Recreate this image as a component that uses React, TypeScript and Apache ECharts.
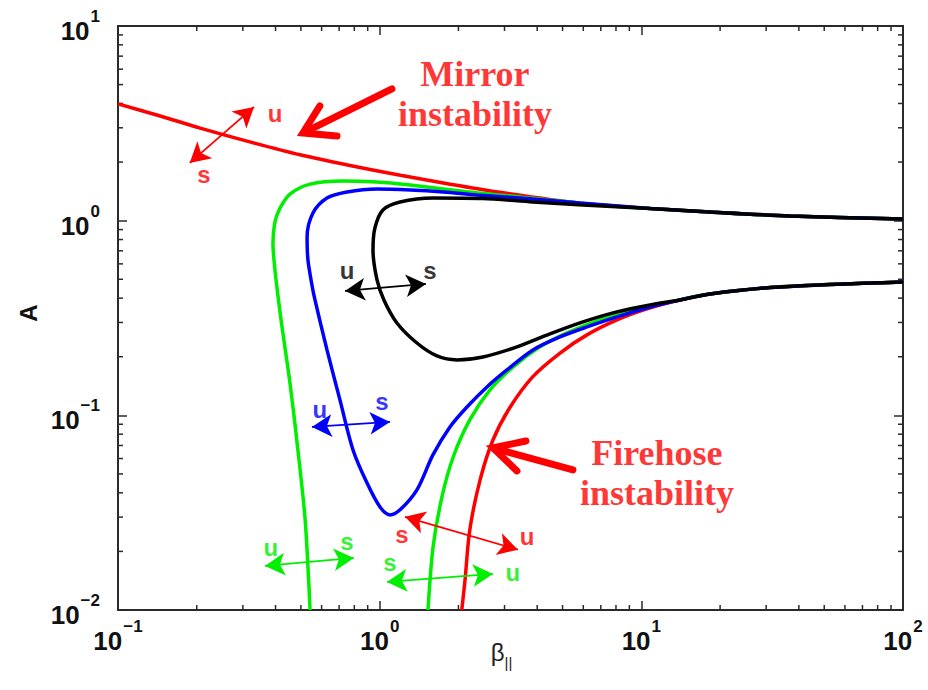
import React, { useEffect, useRef } from "react";
import * as echarts from "echarts";

// Axis ranges (log-log plane)
const BETA_MIN = 0.1;
const BETA_MAX = 100;
const A_MIN = 0.01;
const A_MAX = 10;

const minorBetaTicks = [0.2, 0.3, 0.4, 0.5, 0.6, 0.7, 0.8, 0.9, 2, 3, 4, 5, 6, 7, 8, 9, 20, 30, 40, 50, 60, 70, 80, 90];
const minorATicks = [0.02, 0.03, 0.04, 0.05, 0.06, 0.07, 0.08, 0.09, 0.2, 0.3, 0.4, 0.5, 0.6, 0.7, 0.8, 0.9, 2, 3, 4, 5, 6, 7, 8, 9];

// Mirror threshold (upper red curve)
const mirrorBeta = [0.1, 0.145, 0.206, 0.319, 0.496, 0.77, 1.2, 1.86, 2.88, 5.83, 10.8, 18.3, 37, 100];
const mirrorA = [3.98, 3.45, 2.99, 2.54, 2.18, 1.92, 1.71, 1.54, 1.4, 1.23, 1.155, 1.108, 1.057, 1.02];

// Firehose threshold (lower red curve)
const firehoseBeta = [2.06, 2.12, 2.21, 2.42, 2.71, 3.15, 3.85, 4.89, 6.2, 8.07, 10.5, 14.05, 18.3, 33.9, 100];
const firehoseA = [0.01, 0.0143, 0.0258, 0.0466, 0.0747, 0.11, 0.158, 0.209, 0.259, 0.309, 0.352, 0.392, 0.42, 0.457, 0.484];

// Green contour, left branch rising and bending over into the upper branch
const greenUpperBeta = [0.542, 0.532, 0.518, 0.487, 0.454, 0.42, 0.398, 0.391, 0.398, 0.416, 0.454, 0.542, 0.724, 0.977, 1.31, 1.75, 2.35, 3.44, 5.83, 10.8, 18.3, 37, 100];
const greenUpperA = [0.01, 0.0167, 0.0301, 0.0664, 0.147, 0.309, 0.558, 0.768, 0.985, 1.16, 1.37, 1.54, 1.6, 1.58, 1.525, 1.455, 1.39, 1.323, 1.23, 1.155, 1.108, 1.057, 1.02];

// Green contour, firehose-side branch
const greenLowerBeta = [1.53, 1.6, 1.73, 1.91, 2.21, 2.64, 3.23, 4.1, 5.2, 6.95, 9.29, 14.05, 18.3, 33.9, 100];
const greenLowerA = [0.01, 0.0211, 0.0381, 0.0611, 0.0947, 0.135, 0.177, 0.225, 0.265, 0.309, 0.348, 0.392, 0.42, 0.457, 0.484];

// Blue contour (single curve with a deep minimum)
const blueBeta = [100, 37, 18.3, 10.8, 5.83, 3.44, 2.35, 1.75, 1.31, 0.977, 0.75, 0.629, 0.556, 0.528, 0.532, 0.551, 0.566, 0.629, 0.705, 0.791, 0.894, 1.003, 1.095, 1.196, 1.388, 1.598, 1.856, 2.156, 2.57, 3.064, 3.853, 4.887, 6.197, 8.068, 10.79, 14.05, 18.29, 33.85, 100];
const blueA = [1.02, 1.057, 1.108, 1.155, 1.233, 1.308, 1.355, 1.404, 1.438, 1.455, 1.404, 1.308, 1.095, 0.8245, 0.6285, 0.4675, 0.3915, 0.2168, 0.12, 0.0664, 0.045, 0.0338, 0.0308, 0.0327, 0.0414, 0.0626, 0.0872, 0.1104, 0.1399, 0.1711, 0.2168, 0.2528, 0.2844, 0.3202, 0.3603, 0.3915, 0.4203, 0.4566, 0.4844];

// Black contour (closed-looking loop)
const blackBeta = [100, 37, 18.3, 10.8, 5.98, 3.85, 2.48, 1.6, 1.196, 1.029, 0.959, 0.943, 0.977, 1.038, 1.164, 1.388, 1.656, 1.974, 2.481, 3.347, 4.474, 5.983, 8.068, 10.79, 14.05, 18.29, 33.85, 100];
const blackA = [1.02, 1.057, 1.108, 1.155, 1.204, 1.247, 1.3, 1.308, 1.247, 1.135, 0.917, 0.707, 0.496, 0.3915, 0.2982, 0.2353, 0.2019, 0.1926, 0.1995, 0.2246, 0.2619, 0.3018, 0.3398, 0.369, 0.3915, 0.4203, 0.4566, 0.4844];

const RED = "#ff0000";
const GREEN = "#00ee00";
const BLUE = "#0000ff";
const BLACK = "#000000";
const AXIS = "#2a2a2a";

// Double-headed stability arrows (from, to) in (β∥, A)
const stabilityArrows = [
  { color: RED, from: [0.188, 1.98], to: [0.331, 3.84] },
  { color: BLACK, from: [0.737, 0.4355], to: [1.503, 0.473] },
  { color: BLUE, from: [0.551, 0.0872], to: [1.095, 0.0925] },
  { color: GREEN, from: [0.3645, 0.01685], to: [0.797, 0.01852] },
  { color: RED, from: [1.249, 0.0301], to: [3.377, 0.0204] },
  { color: GREEN, from: [1.066, 0.01394], to: [2.71, 0.01532] },
];

// u / s markers
const stabilityLabels = [
  { text: "u", color: RED, at: [0.398, 3.57] },
  { text: "s", color: RED, at: [0.213, 1.717] },
  { text: "u", color: BLACK, at: [0.75, 0.5515] },
  { text: "s", color: BLACK, at: [1.557, 0.5515] },
  { text: "u", color: BLUE, at: [0.591, 0.1066] },
  { text: "s", color: BLUE, at: [1.02, 0.1172] },
  { text: "u", color: GREEN, at: [0.384, 0.02084] },
  { text: "s", color: GREEN, at: [0.75, 0.02237] },
  { text: "s", color: RED, at: [1.217, 0.0243] },
  { text: "u", color: RED, at: [3.655, 0.02373] },
  { text: "s", color: GREEN, at: [1.095, 0.01745] },
  { text: "u", color: GREEN, at: [3.231, 0.01551] },
];

// Thick pointer arrows: shaft (tail -> near tip) and chevron head
const mirrorPointerShaft = [[1.114, 4.748], [0.534, 2.913]];
const mirrorPointerHead = [[0.591, 3.883], [0.509, 2.821], [0.687, 2.723]];
const firehosePointerShaft = [[5.478, 0.05244], [2.852, 0.06675]];
const firehosePointerHead = [[3.622, 0.07384], [2.71, 0.06803], [3.347, 0.05182]];

const instabilityTitles = [
  { text: "Mirror\ninstability", at: [2.313, 4.474] },
  { text: "Firehose\ninstability", at: [11.47, 0.0506] },
];

const zip = (xs: number[], ys: number[]) => xs.map((x, i) => [x, ys[i]]);

const SANS = "'Liberation Sans', Arial, Helvetica, sans-serif";
const SERIF = "'Liberation Serif', 'Times New Roman', serif";

const powerLabel = (v: number) => {
  const e = Math.round(Math.log10(v));
  const exp = e < 0 ? "\u2212" + -e : String(e);
  return `{b|10}{sup|${exp}}`;
};

const labelRich = {
  b: { fontSize: 26, fontWeight: "bold", fontFamily: SANS, color: "#111", lineHeight: 36, verticalAlign: "bottom" },
  sup: { fontSize: 17, fontWeight: "bold", fontFamily: SANS, color: "#111", lineHeight: 18, verticalAlign: "top", padding: [0, 0, 0, 1] },
};

const frameLine = { show: true, onZero: false, lineStyle: { color: AXIS, width: 2 } };
const majorTick = { show: true, inside: true, length: 9, lineStyle: { color: AXIS, width: 1.5 } };

function curve(name: string, color: string, xs: number[], ys: number[]) {
  return {
    type: "line",
    name,
    data: zip(xs, ys),
    symbol: "none",
    showSymbol: false,
    smooth: 0.3,
    silent: true,
    lineStyle: { color, width: 3.5 },
  };
}

function pointer(name: string, pts: number[][]) {
  return {
    type: "line",
    name,
    data: pts,
    symbol: "none",
    showSymbol: false,
    silent: true,
    clip: false,
    lineStyle: { color: RED, width: 7, cap: "round", join: "miter" },
  };
}

export default function App() {
  const ref = useRef<HTMLDivElement>(null);

  useEffect(() => {
    if (!ref.current) return;
    const chart = echarts.init(ref.current, null, { renderer: "svg" });

    const minorTickSeries = (axis: "x" | "y") => ({
      type: "custom",
      coordinateSystem: "cartesian2d",
      silent: true,
      clip: false,
      data: axis === "x" ? minorBetaTicks.map((v) => [v, A_MIN]) : minorATicks.map((v) => [BETA_MIN, v]),
      encode: { x: 0, y: 1 },
      renderItem: (_p: any, api: any) => {
        const style = { stroke: AXIS, lineWidth: 1.5 };
        if (axis === "x") {
          const v = api.value(0);
          const b = api.coord([v, A_MIN]);
          const t = api.coord([v, A_MAX]);
          return {
            type: "group",
            children: [
              { type: "line", shape: { x1: b[0], y1: b[1], x2: b[0], y2: b[1] - 5 }, style },
              { type: "line", shape: { x1: t[0], y1: t[1], x2: t[0], y2: t[1] + 5 }, style },
            ],
          };
        }
        const v = api.value(1);
        const l = api.coord([BETA_MIN, v]);
        const r = api.coord([BETA_MAX, v]);
        return {
          type: "group",
          children: [
            { type: "line", shape: { x1: l[0], y1: l[1], x2: l[0] + 5, y2: l[1] }, style },
            { type: "line", shape: { x1: r[0], y1: r[1], x2: r[0] - 5, y2: r[1] }, style },
          ],
        };
      },
    });

    const option: any = {
      animation: false,
      backgroundColor: "#ffffff",
      grid: { left: 118, right: 25, top: 26, bottom: 80, containLabel: false },
      xAxis: [
        {
          type: "log",
          logBase: 10,
          min: BETA_MIN,
          max: BETA_MAX,
          position: "bottom",
          axisLine: frameLine,
          axisTick: majorTick,
          splitLine: { show: false },
          axisLabel: { formatter: powerLabel, margin: 8, rich: labelRich, fontSize: 26, showMinLabel: true, showMaxLabel: true },
          name: "{b|\u03b2}{sub|||}",
          nameLocation: "middle",
          nameGap: 30,
          nameMoveOverlap: false,
          nameTextStyle: {
            padding: [0, 18, 0, 0],
            rich: {
              b: { fontSize: 24, fontFamily: SANS, color: "#222", lineHeight: 30, verticalAlign: "top" },
              sub: { fontSize: 15, fontFamily: SANS, color: "#222", lineHeight: 16, verticalAlign: "bottom" },
            },
          },
        },
        {
          type: "log",
          logBase: 10,
          min: BETA_MIN,
          max: BETA_MAX,
          position: "top",
          axisLine: frameLine,
          axisTick: majorTick,
          splitLine: { show: false },
          axisLabel: { show: false },
        },
      ],
      yAxis: [
        {
          type: "log",
          logBase: 10,
          min: A_MIN,
          max: A_MAX,
          position: "left",
          axisLine: frameLine,
          axisTick: majorTick,
          splitLine: { show: false },
          axisLabel: { formatter: powerLabel, margin: 18, rich: labelRich, fontSize: 26, showMinLabel: true, showMaxLabel: true },
          name: "A",
          nameLocation: "middle",
          nameRotate: 90,
          nameGap: 78,
          nameMoveOverlap: false,
          nameTextStyle: { fontSize: 24, fontWeight: "bold", fontFamily: SANS, color: "#111", padding: [0, 0, 0, 10] },
        },
        {
          type: "log",
          logBase: 10,
          min: A_MIN,
          max: A_MAX,
          position: "right",
          axisLine: frameLine,
          axisTick: majorTick,
          splitLine: { show: false },
          axisLabel: { show: false },
        },
      ],
      series: [
        minorTickSeries("x"),
        minorTickSeries("y"),
        curve("Mirror threshold", RED, mirrorBeta, mirrorA),
        curve("Firehose threshold", RED, firehoseBeta, firehoseA),
        curve("Green upper", GREEN, greenUpperBeta, greenUpperA),
        curve("Green lower", GREEN, greenLowerBeta, greenLowerA),
        curve("Blue", BLUE, blueBeta, blueA),
        curve("Black", BLACK, blackBeta, blackA),
        {
          type: "line",
          name: "Stability arrows",
          data: stabilityArrows.map((a) => a.from),
          symbol: "none",
          silent: true,
          lineStyle: { opacity: 0, width: 0 },
          markLine: {
            silent: true,
            animation: false,
            label: { show: false },
            emphasis: { disabled: true },
            data: stabilityArrows.map((a) => [
              {
                coord: a.from,
                symbol: "arrow",
                symbolSize: [17, 20],
                lineStyle: { color: a.color, width: 1.8, type: "solid" },
              },
              { coord: a.to, symbol: "arrow", symbolSize: [17, 20] },
            ]),
          },
        },
        pointer("Mirror pointer shaft", mirrorPointerShaft),
        pointer("Mirror pointer head", mirrorPointerHead),
        pointer("Firehose pointer shaft", firehosePointerShaft),
        pointer("Firehose pointer head", firehosePointerHead),
        {
          type: "scatter",
          name: "u/s",
          symbol: "circle",
          symbolSize: 0,
          silent: true,
          clip: false,
          data: stabilityLabels.map((l) => ({
            name: l.text,
            value: l.at,
            label: { color: l.color },
          })),
          label: {
            show: true,
            position: "inside",
            formatter: "{b}",
            fontSize: 24,
            fontWeight: "bold",
            fontFamily: SANS,
          },
        },
        {
          type: "scatter",
          name: "Titles",
          symbol: "circle",
          symbolSize: 0,
          silent: true,
          clip: false,
          data: instabilityTitles.map((t) => ({ name: t.text, value: t.at })),
          label: {
            show: true,
            position: "inside",
            formatter: "{b}",
            fontSize: 36,
            lineHeight: 40,
            fontWeight: "bold",
            fontFamily: SERIF,
            color: RED,
            align: "center",
          },
        },
      ],
    };

    chart.setOption(option);
    return () => chart.dispose();
  }, []);

  return (
    <div
      ref={ref}
      style={{ position: "absolute", left: 0, top: 0, width: 928, height: 690, background: "#fff" }}
    />
  );
}
